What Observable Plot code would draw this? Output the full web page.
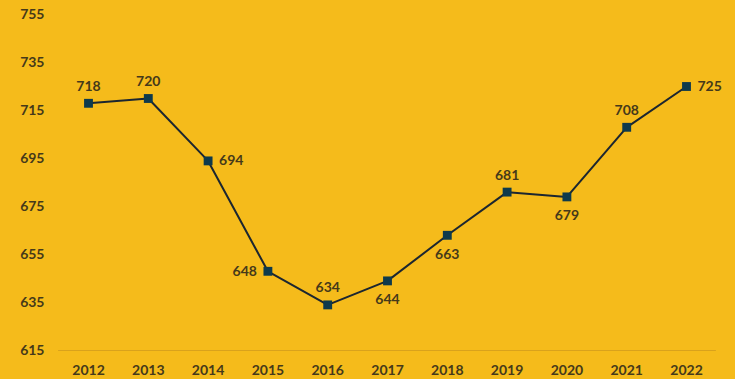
<!DOCTYPE html>
<html>
<head>
<meta charset="utf-8">
<script src="https://cdn.jsdelivr.net/npm/d3@7"></script>
<script src="https://cdn.jsdelivr.net/npm/@observablehq/plot@0.6"></script>
<style>
  html, body { margin: 0; padding: 0; background: #F5BB1B; }
  #chart svg { display: block; }
</style>
</head>
<body>
<div id="chart"></div>
<script>
const years = [2012, 2013, 2014, 2015, 2016, 2017, 2018, 2019, 2020, 2021, 2022];
const values = [718, 720, 694, 648, 634, 644, 663, 681, 679, 708, 725];
// label placement: "above", "below", "right", "left"
const labelPos = ["above", "above", "right", "left", "above", "below", "below", "above", "below", "above", "right"];
const yTicks = [615, 635, 655, 675, 695, 715, 735, 755];

const data = years.map((y, i) => ({year: y, value: values[i], pos: labelPos[i]}));
const textColor = "#45391A";
const font = "Lato, 'Open Sans', sans-serif";

const labelMark = (pos, opts) => Plot.text(data.filter(d => d.pos === pos), {
  x: "year", y: "value", text: d => String(d.value),
  fill: textColor, fontSize: 14, fontWeight: "bold", fontFamily: font, ...opts
});

const chart = Plot.plot({
  width: 735,
  height: 379,
  marginLeft: 88,
  marginRight: 49,
  marginTop: 14,
  marginBottom: 29,
  style: {background: "#F5BB1B", fontFamily: font, color: textColor},
  x: {domain: [2012, 2022], axis: null},
  y: {domain: [615, 755], axis: null},
  marks: [
    Plot.ruleY([615], {x1: 2011.5, x2: 2022.5, stroke: "#D9A21C", strokeWidth: 1}),
    Plot.text(yTicks, {x: 2012, y: d => d, text: d => String(d), dx: -44, textAnchor: "end",
      fill: textColor, fontSize: 14, fontWeight: "bold", fontFamily: font}),
    Plot.text(years, {x: d => d, y: 615, text: d => String(d), dy: 20,
      fill: textColor, fontSize: 14, fontWeight: "bold", fontFamily: font}),
    Plot.line(data, {x: "year", y: "value", stroke: "#1C2630", strokeWidth: 2}),
    Plot.dot(data, {x: "year", y: "value", symbol: "square", r: 5, fill: "#0E3A4C", stroke: "none"}),
    labelMark("above", {dy: -17}),
    labelMark("below", {dy: 19}),
    labelMark("right", {dx: 11, textAnchor: "start"}),
    labelMark("left", {dx: -11, textAnchor: "end"})
  ]
});
document.getElementById("chart").append(chart);
</script>
</body>
</html>
